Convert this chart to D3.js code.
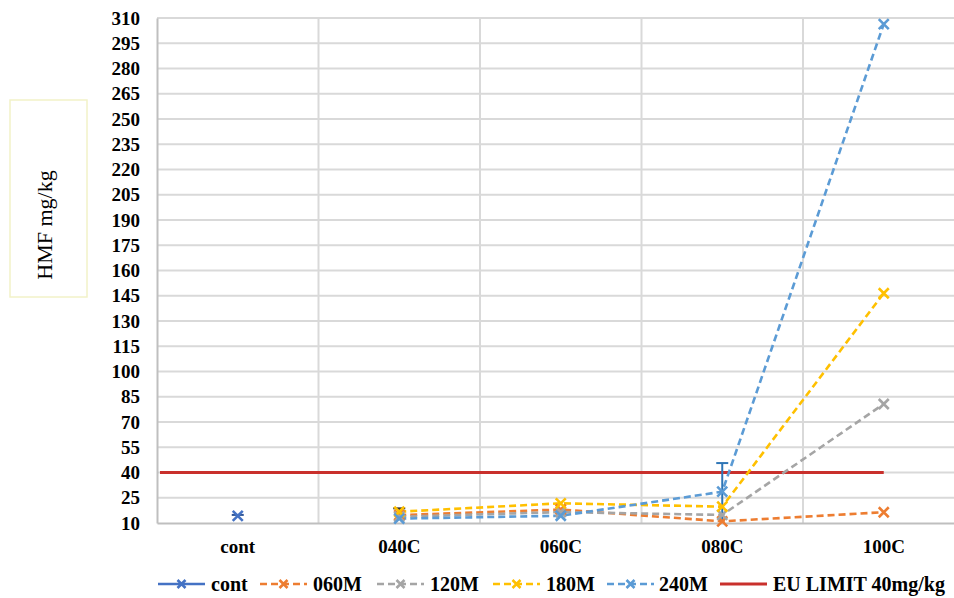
<!DOCTYPE html>
<html><head><meta charset="utf-8">
<script src="https://cdn.jsdelivr.net/npm/d3@7/dist/d3.min.js"></script>
<style>html,body{margin:0;padding:0;background:#fff;}svg{display:block;}</style>
</head><body>
<svg id="chart" width="954" height="598"></svg>
<script>
const categories = ["cont", "040C", "060C", "080C", "100C"];
const yTicks = [10,25,40,55,70,85,100,115,130,145,160,175,190,205,220,235,250,265,280,295,310];
const seriesNames = ["cont", "060M", "120M", "180M", "240M"];
const contValues = [14.2, null, null, null, null];
const m060Values = [null, 14.7, 18.0, 11.0, 16.4];
const m120Values = [null, 13.7, 16.5, 14.8, 80.7];
const m180Values = [null, 16.7, 21.7, 19.7, 146.5];
const m240Values = [null, 12.6, 14.3, 28.6, 306.4];
const m180Errors = [0, 2.0, 0, 0, 0];
const m240Errors = [0, 0, 0, 17.0, 0];
const contErrors = [0.6, 0, 0, 0, 0];
const euLimit = 40;
const euLabel = "EU LIMIT 40mg/kg";
const yLabel = "HMF mg/kg";

(function(){
const colors = {cont:"#4472C4", "060M":"#ED7D31", "120M":"#A5A5A5", "180M":"#FFC000", "240M":"#5B9BD5", eu:"#C9302C"};
const series = [
  {name:"cont", values:contValues, errors:contErrors, dashed:false, color:colors.cont, errColor:"#2F5597"},
  {name:"060M", values:m060Values, errors:null, dashed:true, color:colors["060M"]},
  {name:"120M", values:m120Values, errors:null, dashed:true, color:colors["120M"]},
  {name:"180M", values:m180Values, errors:m180Errors, dashed:true, color:colors["180M"], errColor:"#333333"},
  {name:"240M", values:m240Values, errors:m240Errors, dashed:true, color:colors["240M"], errColor:"#2E75B6"}
];

const svg = d3.select("#chart");
const pL = 157, pR = 964.5, pT = 18, pB = 523;
const x = d3.scaleBand().domain(categories).range([pL, pR]);
const y = d3.scaleLinear().domain([10, 310]).range([pB, pT]);
const cx = c => x(c) + x.bandwidth()/2;
const serif = "'Liberation Serif', 'Times New Roman', serif";

// gridlines
svg.append("g").selectAll("line").data(yTicks.slice(1)).join("line")
  .attr("x1", pL).attr("x2", 954).attr("y1", d=>y(d)).attr("y2", d=>y(d))
  .attr("stroke", "#D9D9D9").attr("stroke-width", 2);
svg.append("g").selectAll("line").data(categories.slice(1)).join("line")
  .attr("x1", d=>x(d)).attr("x2", d=>x(d)).attr("y1", pT).attr("y2", pB)
  .attr("stroke", "#D9D9D9").attr("stroke-width", 2);

// axes
const yAxis = d3.axisLeft(y).tickValues(yTicks).tickSize(0).tickPadding(17);
const gy = svg.append("g").attr("transform", `translate(${pL},0)`).call(yAxis);
gy.select(".domain").attr("stroke", "#BFBFBF").attr("stroke-width", 2);
gy.selectAll("text").attr("font-family", serif)
  .attr("font-weight", "bold").attr("font-size", 19).attr("fill", "#000");

const xAxis = d3.axisBottom(x).tickSize(0).tickPadding(17);
const gx = svg.append("g").attr("transform", `translate(0,${pB})`).call(xAxis);
gx.select(".domain").attr("stroke", "#BFBFBF").attr("stroke-width", 2);
gx.selectAll("text").attr("font-family", serif)
  .attr("font-weight", "bold").attr("font-size", 19).attr("fill", "#000");

// EU limit line
svg.append("line")
  .attr("x1", x.range()[0] + 3).attr("x2", cx(categories[categories.length-1]))
  .attr("y1", y(euLimit)).attr("y2", y(euLimit))
  .attr("stroke", colors.eu).attr("stroke-width", 3);

// series lines
const line = d3.line().defined(d=>d.v!=null).x(d=>cx(d.c)).y(d=>y(d.v));
series.forEach(s => {
  const pts = categories.map((c,i)=>({c, v:s.values[i]}));
  svg.append("path").datum(pts).attr("d", line).attr("fill","none")
    .attr("stroke", s.color).attr("stroke-width", 2.6)
    .attr("stroke-dasharray", s.dashed ? "7,4" : null);
});

// error bars
series.forEach(s => {
  if (!s.errors) return;
  categories.forEach((c,i) => {
    const v = s.values[i], e = s.errors[i];
    if (v==null || !e) return;
    const g = svg.append("g").attr("stroke", s.errColor).attr("stroke-width", 2);
    g.append("line").attr("x1", cx(c)).attr("x2", cx(c)).attr("y1", y(v+e)).attr("y2", y(Math.max(10,v-e)));
    g.append("line").attr("x1", cx(c)-6).attr("x2", cx(c)+6).attr("y1", y(v+e)).attr("y2", y(v+e));
  });
});

// markers
function xMark(g, px, py, color, r) {
  g.append("path").attr("d", `M${px-r},${py-r}L${px+r},${py+r}M${px-r},${py+r}L${px+r},${py-r}`)
    .attr("stroke", color).attr("stroke-width", 2.6).attr("fill","none");
}
series.forEach(s => {
  const g = svg.append("g");
  categories.forEach((c,i)=>{ if (s.values[i]!=null) xMark(g, cx(c), y(s.values[i]), s.color, 5); });
});

// y label box
svg.append("rect").attr("x", 10).attr("y", 100).attr("width", 77).attr("height", 197)
  .attr("fill", "none").attr("stroke", "#F2F2C8").attr("stroke-width", 1.5);
svg.append("text").attr("transform", "translate(52,225) rotate(-90)")
  .attr("text-anchor", "middle").attr("font-family", serif)
  .attr("font-size", 22).attr("fill", "#000").text(yLabel);

// legend
const legendItems = [
  {name:"cont", color:colors.cont, dashed:false, marker:true, lx:158, tx:211},
  {name:"060M", color:colors["060M"], dashed:true, marker:true, lx:260, tx:313},
  {name:"120M", color:colors["120M"], dashed:true, marker:true, lx:377, tx:430},
  {name:"180M", color:colors["180M"], dashed:true, marker:true, lx:493, tx:546},
  {name:"240M", color:colors["240M"], dashed:true, marker:true, lx:607, tx:659},
  {name:euLabel, color:colors.eu, dashed:false, marker:false, lx:720, tx:773}
];
const ly = 584;
const lg = svg.append("g");
legendItems.forEach(it => {
  lg.append("line").attr("x1", it.lx).attr("x2", it.lx+47).attr("y1", ly).attr("y2", ly)
    .attr("stroke", it.color).attr("stroke-width", it.marker ? 2.6 : 3)
    .attr("stroke-dasharray", it.dashed ? "7,4" : null);
  if (it.marker) xMark(lg, it.lx+23.5, ly, it.color, 4);
  lg.append("text").attr("x", it.tx).attr("y", ly).attr("dy", "0.35em")
    .attr("font-family", serif)
    .attr("font-weight", "bold").attr("font-size", 20).attr("fill", "#000").text(it.name);
});
})();
</script>
</body></html>
